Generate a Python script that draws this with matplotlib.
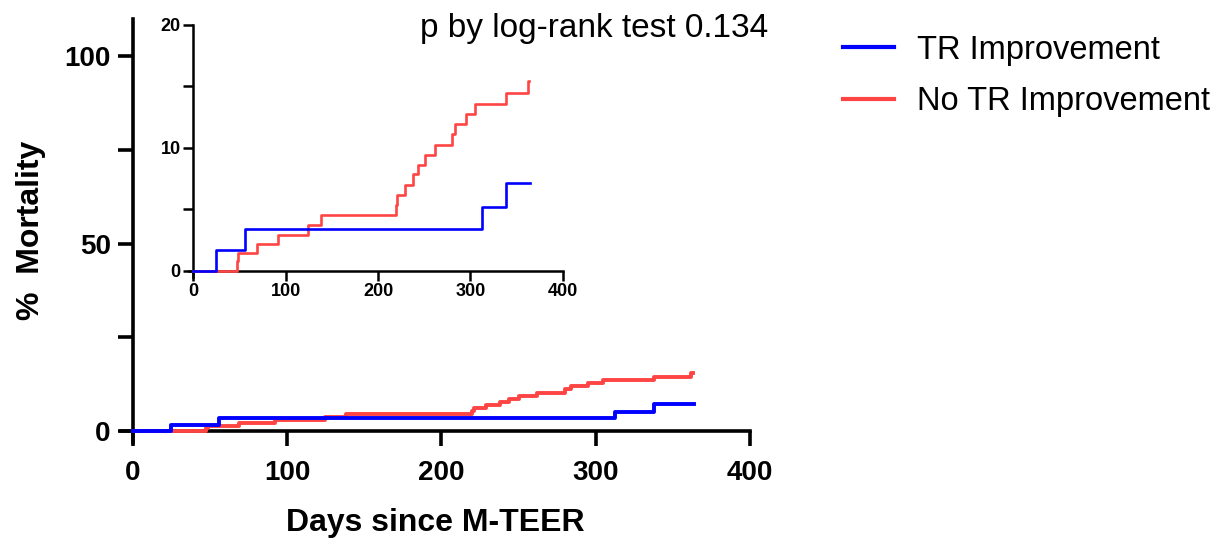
import matplotlib.pyplot as plt
from matplotlib.ticker import MultipleLocator

# Kaplan-Meier style cumulative mortality (days, %)
blue_days = [0, 24.5, 56, 312.6, 338, 364]
blue_pct = [0, 1.68, 3.37, 5.18, 7.1, 7.1]
red_days = [0, 47, 48.5, 68.6, 92, 124.5, 138, 219.5, 221, 229, 238, 243.5,
            250.5, 261.7, 279.8, 283.8, 295.3, 305, 338, 362, 363]
red_pct = [0, 0.75, 1.41, 2.17, 2.9, 3.72, 4.53, 5.35, 6.16, 6.97, 7.84, 8.6,
           9.42, 10.23, 11.13, 11.9, 12.75, 13.57, 14.44, 15.47, 15.47]
labels = ['TR Improvement', 'No TR Improvement']
x_ticks = [0, 100, 200, 300, 400]
p_text = 'p by log-rank test 0.134'

BLUE = '#0000FF'
RED = '#FF4444'

plt.rcParams['font.family'] = ['Liberation Sans', 'DejaVu Sans']

fig = plt.figure(figsize=(12.24, 5.42), dpi=100)

# main axes
ax = fig.add_axes([0.0986, 0.1841, 0.5141, 0.7808])
ax.plot(red_days, red_pct, drawstyle='steps-post', color=RED, lw=2.8, zorder=3, clip_on=False)
ax.plot(blue_days, blue_pct, drawstyle='steps-post', color=BLUE, lw=2.8, zorder=4, clip_on=False)
ax.set_xlim(-8, 400)
ax.set_ylim(-3, 110)
ax.set_xticks(x_ticks)
ax.set_yticks([0, 50, 100])
ax.yaxis.set_minor_locator(MultipleLocator(25))
for s in ['top', 'right']:
    ax.spines[s].set_visible(False)
for s in ['left', 'bottom']:
    ax.spines[s].set_position(('data', 0))
    ax.spines[s].set_linewidth(2.6)
ax.tick_params(which='both', direction='out', length=11, width=2.6, labelsize=20)
ax.tick_params(axis='x', pad=10)
ax.tick_params(axis='y', pad=5)
for t in ax.get_xticklabels() + ax.get_yticklabels():
    t.set_fontweight('bold')
ax.set_xlabel('Days since M-TEER', fontsize=23, fontweight='bold', labelpad=16)
ax.set_ylabel('%  Mortality', fontsize=23, fontweight='bold', labelpad=13)

# inset
ins = fig.add_axes([0.1542, 0.4893, 0.3056, 0.4646])
ins.patch.set_alpha(0)
ins.plot(red_days, red_pct, drawstyle='steps-post', color=RED, lw=1.9, zorder=3, clip_on=False)
ins.plot(blue_days, blue_pct, drawstyle='steps-post', color=BLUE, lw=1.9, zorder=4, clip_on=False)
ins.set_xlim(-5, 400)
ins.set_ylim(-0.5, 20)
ins.set_xticks(x_ticks)
ins.set_yticks([0, 10, 20])
ins.yaxis.set_minor_locator(MultipleLocator(5))
for s in ['top', 'right']:
    ins.spines[s].set_visible(False)
for s in ['left', 'bottom']:
    ins.spines[s].set_position(('data', 0))
    ins.spines[s].set_linewidth(1.8)
ins.tick_params(which='both', direction='out', length=7, width=1.8, labelsize=13, pad=2)
for t in ins.get_xticklabels() + ins.get_yticklabels():
    t.set_fontweight('bold')

fig.text(0.628, 1 - 29 / 542, p_text, fontsize=24, ha='right', va='center')

handles = [plt.Line2D([], [], color=BLUE, lw=3), plt.Line2D([], [], color=RED, lw=3)]
fig.legend(handles, labels, loc='upper left', bbox_to_anchor=(0.665, 0.99), frameon=False,
           fontsize=23.5, handlelength=1.55, handletextpad=0.7, labelspacing=0.62)

fig.savefig('out.png', dpi=100)
